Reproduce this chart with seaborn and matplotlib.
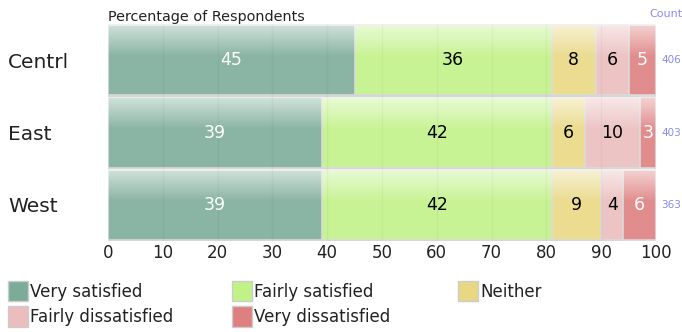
import numpy as np
import pandas as pd
import matplotlib
matplotlib.use("Agg")
import matplotlib.pyplot as plt
import matplotlib.patches as mpatches
import matplotlib.transforms as mtransforms
import seaborn as sns

regions = ["Centrl", "East", "West"]
responses = ["Very satisfied", "Fairly satisfied", "Neither",
             "Fairly dissatisfied", "Very dissatisfied"]
very_satisfied = [45, 39, 39]
fairly_satisfied = [36, 42, 42]
neither = [8, 6, 9]
fairly_dissatisfied = [6, 10, 4]
very_dissatisfied = [5, 3, 6]
counts = [406, 403, 363]
x_ticks = [0, 10, 20, 30, 40, 50, 60, 70, 80, 90, 100]

palette = ["#7cab98", "#c1f288", "#e9d883", "#ebbdbd", "#df8080"]
label_colors = ["white", "black", "black", "black", "white"]
count_color = "#8a8af0"

sns.set_theme(style="white")
plt.rcParams["font.family"] = ["DejaVu Sans"]

series = [very_satisfied, fairly_satisfied, neither,
          fairly_dissatisfied, very_dissatisfied]
df = pd.DataFrame({"region": regions})
for name, vals in zip(responses, series):
    df[name] = vals
cum = df[responses].cumsum(axis=1)

fig = plt.figure(figsize=(6.82, 3.32), dpi=100)
ax = fig.add_axes([108 / 682, 1 - 241 / 332, 548 / 682, 217 / 332])

# stacked bars: draw the widest cumulative total first
for i in range(len(responses) - 1, -1, -1):
    data = pd.DataFrame({"region": regions, "value": cum[responses[i]].values})
    sns.barplot(data=data, x="value", y="region", color=palette[i],
                orient="h", width=0.975, edgecolor="#d6d6d6", linewidth=1.2,
                saturation=1, ax=ax, zorder=2 + (len(responses) - i))

# soft highlight at the top of each bar
grad = np.zeros((100, 2, 4))
t = np.linspace(0, 1, 100)
alpha = np.clip(0.55 * (1 - t / 0.45), 0, None) + 0.11
grad[..., :3] = 1.0
grad[..., 3] = alpha[:, None]
for r in range(len(regions)):
    ax.imshow(grad, extent=(0, 100, r + 0.4875, r - 0.4875), aspect="auto",
              zorder=10, interpolation="bilinear")

# faint vertical grid lines through the bars
for xv in x_ticks[1:-1]:
    ax.plot([xv, xv], [-0.49, 2.49], color="#000000", alpha=0.03, lw=1, zorder=11)

# value labels
for r in range(len(regions)):
    left = 0
    for i, name in enumerate(responses):
        v = df.loc[r, name]
        ax.text(left + v / 2, r, f"{v}", ha="center", va="center",
                fontsize=12.5, color=label_colors[i], zorder=12)
        left += v

ax.set_xlim(0, 100)
ax.set_ylim(2.5, -0.5)
ax.set_xticks(x_ticks)
ax.set_xticklabels([str(v) for v in x_ticks], fontsize=12, color="#222222")
ax.set_yticks(range(len(regions)))
ax.set_yticklabels(regions)
ax.tick_params(axis="y", labelsize=14.5, colors="#222222", pad=72, length=0)
ax.tick_params(axis="x", pad=2, length=0)
ax.set_xlabel("")
ax.set_ylabel("")
for side in ax.spines.values():
    side.set_visible(False)
for lbl in ax.get_yticklabels():
    lbl.set_horizontalalignment("left")

fig.text(108 / 682, 1 - 21 / 332, "Percentage of Respondents",
         fontsize=10.4, color="#222222", ha="left", va="baseline")

# respondent counts on the right
fig.text(682 / 682, 1 - 17 / 332, "Count", fontsize=8, color=count_color,
         ha="right", va="baseline")
trans = mtransforms.blended_transform_factory(fig.transFigure, ax.transData)
for r, c in enumerate(counts):
    ax.text(661 / 682, r, str(c), transform=trans, fontsize=7.5,
            color=count_color, ha="left", va="center", clip_on=False)

# legend laid out in three columns
cols_x = [8, 232, 458]
layout = [[0, 3], [1, 4], [2]]
for cx, idxs in zip(cols_x, layout):
    handles = [mpatches.Patch(facecolor=palette[i], edgecolor="#cccccc",
                              linewidth=1) for i in idxs]
    leg = fig.legend(handles, [responses[i] for i in idxs],
                     loc="upper left",
                     bbox_to_anchor=(cx / 682, 1 - 281 / 332),
                     frameon=False, fontsize=12, handlelength=1.2,
                     handleheight=1.5, handletextpad=0.15,
                     labelspacing=0.3, borderaxespad=0, borderpad=0)
    for txt in leg.get_texts():
        txt.set_color("#222222")

fig.savefig("out.png", dpi=100)
